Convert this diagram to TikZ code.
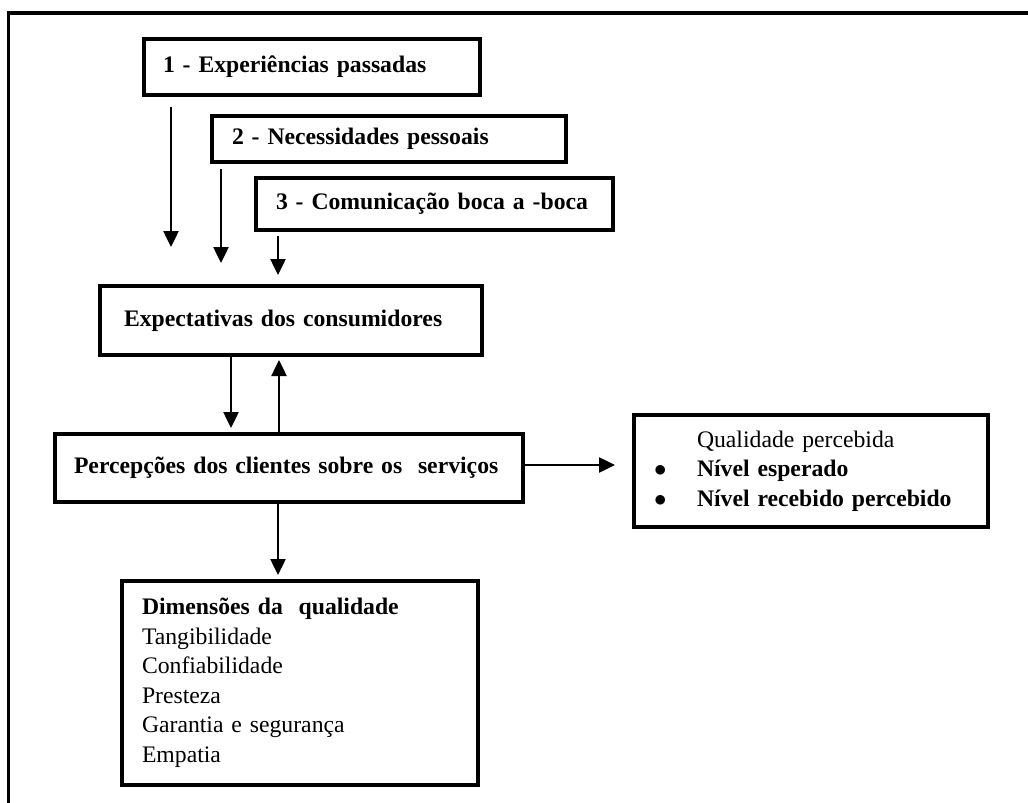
\documentclass[tikz,border=0pt]{standalone}
\usepackage{fontspec}
\setmainfont{Liberation Serif}
\usepackage{tikz}
\usetikzlibrary{calc}
\usetikzlibrary{arrows.meta}
\tikzstyle{block} = [draw, rectangle, line width=4pt, anchor=north west, align=left, inner xsep=20pt, inner ysep=0pt, font=\fontsize{23.7}{29.5}\selectfont]
\tikzstyle{coord} = [coordinate]
\tikzstyle{link} = [line width=2.5pt]

\begin{document}
\begin{tikzpicture}[x=1pt,y=-1pt,>={Triangle[width=15pt,length=16pt]}]
    \useasboundingbox (0,0) rectangle (1028,803);
    % frame
    \draw [line width=3.5pt] (1028,12.8) -- (8.7,12.8) -- (8.7,803);

    \node [block, inner xsep=19pt, minimum width=336pt, minimum height=56pt, text width=298pt] (exper) at (142,37) {\textbf{1 - Experiências passadas}};
    \node [block, minimum width=354pt, minimum height=46pt, text width=314pt] (necess) at (210,114) {\textbf{2 - Necessidades pessoais}};
    \node [block, minimum width=357pt, minimum height=52pt, text width=317pt] (comun) at (254,176) {\mbox{\textbf{3 - Comunicação boca a -boca}}};
    \node [block, inner xsep=24pt, minimum width=382pt, minimum height=69pt, text width=334pt] (expect) at (98,284) {\textbf{Expectativas dos consumidores}};
    \node [block, inner xsep=19pt, minimum width=468pt, minimum height=68pt, text width=430pt] (percep) at (53,432) {\mbox{\textbf{Percepções dos clientes sobre os\ \ serviços}}};
    \node [block, minimum width=354pt, minimum height=112pt, text width=314pt] (qualid) at (632,413) {\hspace*{43pt}Qualidade percebida\\
        \makebox[43pt][l]{$\bullet$}\textbf{Nível esperado}\\
        \makebox[43pt][l]{$\bullet$}\textbf{Nível recebido percebido}};
    \node [block, minimum width=356pt, minimum height=204pt, text width=316pt] (dimens) at (120,579) {\textbf{Dimensões da\ \ qualidade}\\
        Tangibilidade\\ Confiabilidade\\ Presteza\\ Garantia e segurança\\ Empatia};

    % the three inputs
    \path (exper.south west) ++(29,0) coordinate (a1);
    \path (necess.south west) ++(11,0) coordinate (a2);
    \path (comun.south west) ++(24,0) coordinate (a3);
    \draw [link,->,shorten <=10pt,shorten >=37pt] (a1) -- (a1 |- expect.north);
    \draw [link,->,shorten <=5pt,shorten >=21pt] (a2) -- (a2 |- expect.north);
    \draw [link,->,shorten <=4pt,shorten >=9pt] (a3) -- (a3 |- expect.north);

    \path (expect.south west) ++(133,0) coordinate (dn);
    \path (percep.north west) ++(226,0) coordinate (up);
    \path (percep.south west) ++(225,0) coordinate (dm);
    \draw [link,->,shorten >=4pt] (dn) -- (dn |- percep.north);
    \draw [link,->,shorten >=3pt] (up) -- (up |- expect.south);
    \draw [link,->,shorten >=17pt] ([yshift=3pt]percep.east) -- ([yshift=3pt]percep.east -| qualid.west);
    \draw [link,->,shorten >=4pt] (dm) -- (dm |- dimens.north);
\end{tikzpicture}
\end{document}
